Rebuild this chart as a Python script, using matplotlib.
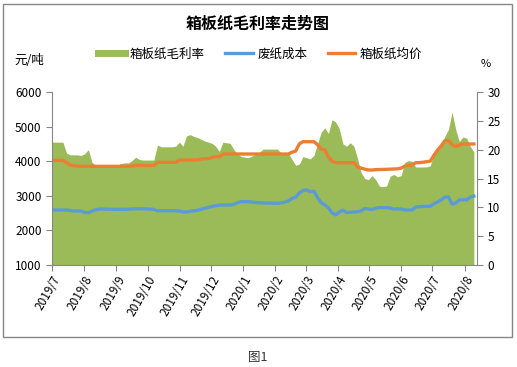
import matplotlib
matplotlib.use('Agg')
import matplotlib.pyplot as plt
import pandas as pd
from matplotlib.patches import Rectangle
from matplotlib.lines import Line2D

plt.rcParams['font.family'] = ['Noto Sans CJK SC', 'DejaVu Sans']

# half-weekly sample dates, 2019-07-01 .. 2020-08-11
dates = pd.date_range('2019-07-01', periods=117, freq='84h')

# 箱板纸毛利率 (%), right axis
margin = [21.3, 21.3, 21.3, 21.3, 19.4, 19.1, 19.1, 19.1, 19.0, 19.3,
          20.0, 17.8, 17.3, 17.3, 17.3, 17.3, 17.3, 17.3, 17.3, 17.6,
          17.7, 17.7, 18.1, 18.7, 18.3, 18.2, 18.2, 18.2, 18.2, 20.8,
          20.5, 20.5, 20.5, 20.5, 20.6, 21.3, 20.6, 22.4, 22.6, 22.3,
          22.1, 21.8, 21.5, 21.3, 21.1, 20.6, 19.7, 21.3, 21.2, 21.1,
          20.0, 19.3, 18.8, 18.7, 18.6, 18.9, 19.2, 19.5, 20.1, 20.1,
          20.1, 20.1, 20.1, 19.4, 19.4, 19.4, 18.3, 17.3, 17.5, 18.8,
          18.6, 18.4, 19.0, 21.0, 23.0, 23.8, 22.8, 25.2, 24.8, 23.6,
          21.0, 20.6, 21.2, 20.6, 18.5, 16.0, 15.0, 14.8, 15.5, 14.8,
          13.7, 13.6, 13.7, 15.4, 15.7, 15.3, 15.5, 17.8, 18.1, 18.0,
          17.0, 17.0, 17.0, 17.0, 17.2, 19.3, 20.2, 20.6, 22.3, 23.5,
          26.5, 23.5, 21.4, 22.2, 22.0, 20.6, 19.6]

# 废纸成本 (元/吨)
cost = [2590, 2590, 2590, 2590, 2590, 2575, 2561, 2561, 2561, 2520,
        2510, 2560, 2595, 2618, 2618, 2615, 2612, 2610, 2610, 2610,
        2612, 2615, 2620, 2625, 2627, 2625, 2620, 2615, 2605, 2565,
        2570, 2570, 2570, 2570, 2570, 2560, 2535, 2530, 2555, 2565,
        2580, 2610, 2640, 2665, 2690, 2712, 2730, 2734, 2734, 2734,
        2750, 2800, 2830, 2830, 2830, 2820, 2805, 2800, 2795, 2790,
        2790, 2785, 2785, 2795, 2815, 2850, 2927, 2960, 3080, 3150,
        3168, 3120, 3135, 2950, 2800, 2740, 2650, 2510, 2450, 2530,
        2585, 2515, 2525, 2530, 2545, 2565, 2635, 2620, 2605, 2640,
        2657, 2657, 2657, 2650, 2612, 2625, 2615, 2592, 2590, 2590,
        2675, 2685, 2690, 2695, 2700, 2770, 2820, 2880, 2960, 2970,
        2760, 2790, 2880, 2885, 2880, 2960, 2990]

# 箱板纸均价 (元/吨)
price = [4026, 4026, 4026, 4026, 3960, 3890, 3870, 3860, 3852, 3852,
         3852, 3852, 3852, 3852, 3852, 3852, 3852, 3852, 3852, 3852,
         3852, 3852, 3860, 3880, 3880, 3880, 3880, 3880, 3880, 3968,
         3968, 3968, 3968, 3968, 3968, 4030, 4035, 4035, 4035, 4035,
         4035, 4060, 4072, 4072, 4110, 4130, 4130, 4200, 4208, 4208,
         4208, 4208, 4208, 4208, 4208, 4208, 4208, 4208, 4208, 4208,
         4208, 4208, 4208, 4208, 4208, 4208, 4260, 4295, 4500, 4564,
         4564, 4564, 4564, 4480, 4353, 4330, 4120, 4000, 3957, 3957,
         3957, 3957, 3957, 3957, 3840, 3800, 3770, 3746, 3746, 3755,
         3760, 3762, 3765, 3770, 3775, 3780, 3800, 3860, 3875, 3890,
         3957, 3960, 3970, 3985, 4000, 4170, 4320, 4440, 4590, 4600,
         4480, 4421, 4470, 4500, 4500, 4497, 4497]

month_ticks = pd.date_range('2019-07-01', '2020-08-01', freq='MS')
month_labels = [f'{d.year}/{d.month}' for d in month_ticks]

green = '#9BBB59'
blue = '#5B9BD5'
orange = '#ED7D31'
grey = '#868686'

fig = plt.figure(figsize=(5.17, 3.67), dpi=100)
fig.patches.append(Rectangle((3 / 517, 1 - 337 / 367), 509 / 517, 333 / 367,
                             transform=fig.transFigure, fill=False,
                             edgecolor=grey, lw=1.0))

ax = fig.add_axes([52 / 517, 1 - 265 / 367, 425 / 517, 173 / 367])
ax2 = ax.twinx()
ax.set_zorder(ax2.get_zorder() + 1)
ax.patch.set_visible(False)

ax2.fill_between(dates, 0, margin, color=green, lw=0)
ax.plot(dates, cost, color=blue, lw=2.4)
ax.plot(dates, price, color=orange, lw=2.4)

ax.set_xlim(pd.Timestamp('2019-07-01'), pd.Timestamp('2020-08-13'))
ax.set_ylim(1000, 6000)
ax.set_yticks(range(1000, 6001, 1000))
ax2.set_ylim(0, 30)
ax2.set_yticks(range(0, 31, 5))

ax.set_xticks(month_ticks)
ax.set_xticklabels(month_labels, rotation=60, ha='right', rotation_mode='anchor')

for a in (ax, ax2):
    for s in a.spines.values():
        s.set_visible(False)
    a.tick_params(colors='black', labelsize=8.5, length=4, width=0.8)
    a.tick_params(axis='both', color=grey)
ax.spines['left'].set_visible(True)
ax.spines['left'].set_color(grey)
ax.spines['bottom'].set_visible(True)
ax.spines['bottom'].set_color(grey)
ax2.spines['right'].set_visible(True)
ax2.spines['right'].set_color(grey)
ax.tick_params(axis='x', pad=2)

fig.text(258 / 517, 1 - 24 / 367, '箱板纸毛利率走势图', ha='center', va='center',
         fontsize=11.5, fontweight='bold')
fig.text(14 / 517, 1 - 61 / 367, '元/吨', ha='left', va='center', fontsize=9)
fig.text(486 / 517, 1 - 64 / 367, '%', ha='center', va='center', fontsize=8)
fig.text(258 / 517, 1 - 357 / 367, '图1', ha='center', va='center', fontsize=9,
         color='#333333')

handles = [Line2D([], [], color=green, lw=5),
           Line2D([], [], color=blue, lw=2.4),
           Line2D([], [], color=orange, lw=2.4)]
fig.legend(handles, ['箱板纸毛利率', '废纸成本', '箱板纸均价'], loc='center',
           bbox_to_anchor=(260 / 517, 1 - 54 / 367), ncol=3, frameon=False,
           fontsize=9, handlelength=2.2, columnspacing=1.6, handletextpad=0.4)

fig.savefig('out.png', dpi=100)
